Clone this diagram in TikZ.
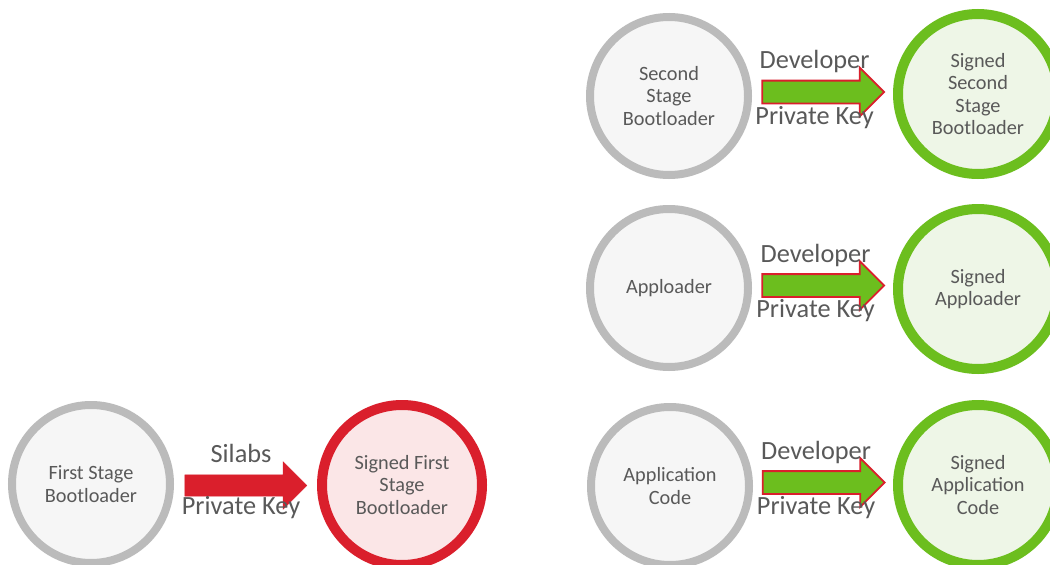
\documentclass[tikz,border=0pt]{standalone}
\usepackage{fontspec}
\setmainfont{Carlito}
\usetikzlibrary{positioning,calc,shapes.arrows}
\definecolor{graytext}{HTML}{595959}
\definecolor{ringgray}{HTML}{BBBBBB}
\definecolor{fillgray}{HTML}{F6F6F6}
\definecolor{okgreen}{HTML}{6CBE1E}
\definecolor{lightgreen}{HTML}{EEF6E7}
\definecolor{rootred}{HTML}{DA1F2C}
\definecolor{lightred}{HTML}{FBE6E7}
\tikzset{
  stage/.style={circle,inner sep=0pt,minimum size=158pt,line width=8pt,draw=ringgray,fill=fillgray,font=\fontsize{20.3}{22.5}\selectfont,text=graytext,align=center},
  signedok/.style={stage,minimum size=160pt,line width=10pt,draw=okgreen,fill=lightgreen},
  signedroot/.style={stage,minimum size=160pt,line width=10pt,draw=rootred,fill=lightred},
  keyarrow/.style={single arrow,single arrow head extend=13pt,inner xsep=0pt,inner ysep=10.5pt,minimum height=122pt,line width=1.8pt,draw=rootred,fill=okgreen},
  rootarrow/.style={keyarrow,line width=0.4pt,fill=rootred},
  keylabel/.style={font=\fontsize{26.3}{28}\selectfont,text=graytext,anchor=base}
}
\begin{document}
\begin{tikzpicture}[x=1pt,y=-1pt]
\clip (0,0) rectangle (1050,565);
\fill[white] (0,0) rectangle (1050,565);
\node[stage] (first) at (91,484) {First Stage\\Bootloader};
\node[signedroot] (sfirst) at (402,485) {Signed First\\Stage\\Bootloader};
\node[stage] (second) at (669,96) {Second\\Stage\\Bootloader};
\node[signedok] (ssecond) at (978,94) {Signed\\Second\\Stage\\Bootloader};
\node[stage] (app) at (669,288) {Apploader};
\node[signedok] (sapp) at (978,289) {Signed\\Apploader};
\node[stage] (code) at (670,486) {Application\\Code};
\node[signedok] (scode) at (978,485) {Signed\\Application\\Code};
\node[rootarrow] (k0) at ($(first)!0.5!(sfirst)+(-6,1)$) {};
\node[keyarrow] (k1) at ($($(second)!0.5!(ssecond)$)+(-6,-3)$) {};
\node[keyarrow] (k2) at ($($(app)!0.5!(sapp)$)+(-6,-3)$) {};
\node[keyarrow] (k3) at ($($(code)!0.5!(scode)$)+(-6,-3)$) {};
\node[keylabel] (k0top) at ($(k0)+(0.5,-23)$) {Silabs};
\node[keylabel] (k0bot) at ($(k0)+(0.5,29)$) {Private Key};
\node[keylabel] (k1top) at ($(k1)+(-3,-23.5)$) {Developer};
\node[keylabel] (k1bot) at ($(k1)+(-3,32)$) {Private Key};
\node[keylabel] (k2top) at ($(k2)+(-2,-23.5)$) {Developer};
\node[keylabel] (k2bot) at ($(k2)+(-2,32)$) {Private Key};
\node[keylabel] (k3top) at ($(k3)+(-2,-23.5)$) {Developer};
\node[keylabel] (k3bot) at ($(k3)+(-2,32)$) {Private Key};
\end{tikzpicture}
\end{document}
